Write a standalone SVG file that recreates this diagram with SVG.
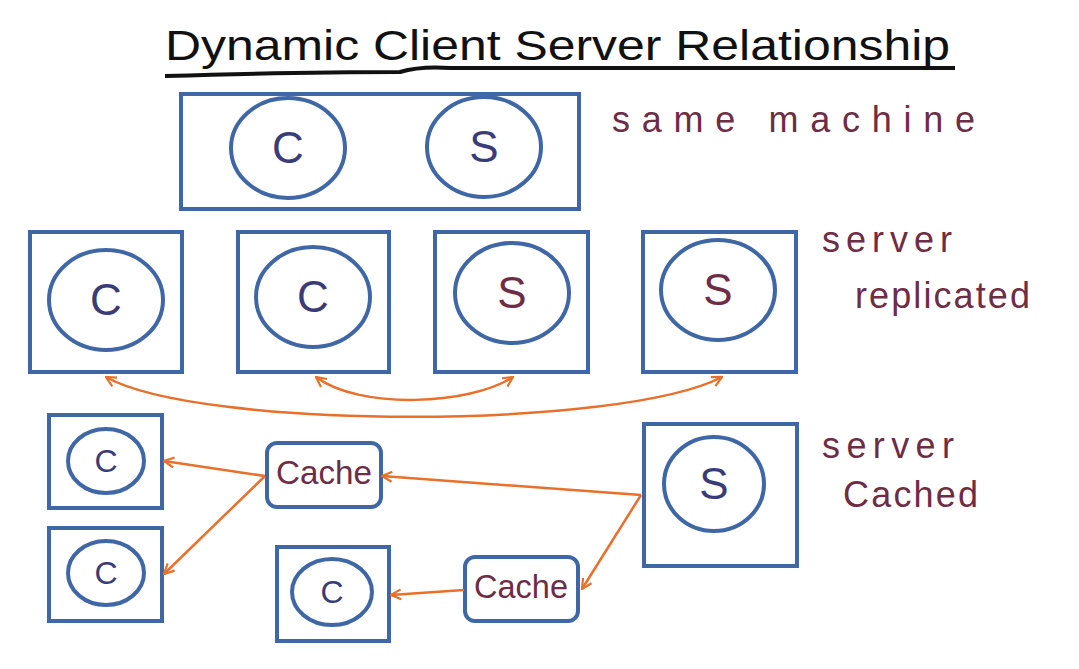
<svg xmlns="http://www.w3.org/2000/svg" width="1079" height="669" viewBox="0 0 1079 669">
<style>
.box{fill:none;stroke:#3F67A6;stroke-width:4}
.circ{fill:none;stroke:#3F67A6;stroke-width:4}
.conn{fill:none;stroke:#E8702A;stroke-width:2.5}
.lc{font-family:"Liberation Sans",Arial,sans-serif;fill:#3A3C78}
.ls{font-family:"Liberation Sans",Arial,sans-serif;fill:#6E2C45}
.lab{font-family:"Liberation Sans",Arial,sans-serif;fill:#6E2C45;font-size:36px}
.title{font-family:"Liberation Sans",Arial,sans-serif;fill:#111;font-size:42px}
</style>
<defs>
<marker id="ah" viewBox="0 0 12 12" refX="11" refY="6" markerWidth="12" markerHeight="12" markerUnits="userSpaceOnUse" orient="auto-start-reverse">
<path d="M1,1 L11,6 L1,11" fill="none" stroke="#E8702A" stroke-width="2.2"/>
</marker>
</defs>
<rect width="1079" height="669" fill="#fff"/>
<g id="title">
<text class="title" x="165" y="60" textLength="785" lengthAdjust="spacingAndGlyphs">Dynamic Client Server Relationship</text>
<path d="M165,76 Q300,72 400,72 Q420,66 450,68 L955,68" fill="none" stroke="#111" stroke-width="4"/>
</g>
<g id="labels">
<text class="lab" x="612" y="132" textLength="363" lengthAdjust="spacing">same machine</text>
<text class="lab" x="822" y="252" textLength="130" lengthAdjust="spacing">server</text>
<text class="lab" x="855" y="308" textLength="175" lengthAdjust="spacing">replicated</text>
<text class="lab" x="822" y="458" textLength="132" lengthAdjust="spacing">server</text>
<text class="lab" x="843" y="507" textLength="135" lengthAdjust="spacing">Cached</text>
</g>
<g id="machine">
<rect class="box" x="181" y="94" width="398" height="115"/>
<ellipse class="circ" cx="288" cy="148" rx="57" ry="50"/>
<text class="lc" x="288" y="163" font-size="44" text-anchor="middle">C</text>
<ellipse class="circ" cx="484" cy="147" rx="57" ry="50"/>
<text class="lc" x="484" y="162" font-size="44" text-anchor="middle">S</text>
</g>
<g id="r-c1">
<rect class="box" x="30" y="232" width="152" height="140"/>
<ellipse class="circ" cx="106" cy="300" rx="57" ry="50"/>
<text class="lc" x="106" y="315" font-size="44" text-anchor="middle">C</text>
</g>
<g id="r-c2">
<rect class="box" x="238" y="232" width="151" height="140"/>
<ellipse class="circ" cx="313" cy="297" rx="57" ry="50"/>
<text class="lc" x="313" y="312" font-size="44" text-anchor="middle">C</text>
</g>
<g id="r-s1">
<rect class="box" x="435" y="232" width="153" height="140"/>
<ellipse class="circ" cx="512" cy="293" rx="57" ry="50"/>
<text class="ls" x="512" y="308" font-size="44" text-anchor="middle">S</text>
</g>
<g id="r-s2">
<rect class="box" x="643" y="232" width="153" height="140"/>
<ellipse class="circ" cx="718" cy="290" rx="57" ry="50"/>
<text class="ls" x="718" y="305" font-size="44" text-anchor="middle">S</text>
</g>
<g id="k-c1">
<rect class="box" x="49" y="415" width="113" height="93"/>
<ellipse class="circ" cx="106" cy="461" rx="38" ry="32"/>
<text class="lc" x="106" y="472" font-size="32" text-anchor="middle">C</text>
</g>
<g id="k-c2">
<rect class="box" x="49" y="528" width="113" height="93"/>
<ellipse class="circ" cx="106" cy="573" rx="38" ry="32"/>
<text class="lc" x="106" y="584" font-size="32" text-anchor="middle">C</text>
</g>
<g id="k-c3">
<rect class="box" x="277" y="547" width="112" height="94"/>
<ellipse class="circ" cx="332" cy="592" rx="40" ry="33"/>
<text class="lc" x="332" y="603" font-size="32" text-anchor="middle">C</text>
</g>
<g id="cache1">
<rect class="box" x="267" y="443" width="114" height="64" rx="10"/>
<text class="ls" x="324" y="484" font-size="34" text-anchor="middle" textLength="96" lengthAdjust="spacingAndGlyphs">Cache</text>
</g>
<g id="cache2">
<rect class="box" x="465" y="557" width="113" height="64" rx="10"/>
<text class="ls" x="521" y="598" font-size="34" text-anchor="middle" textLength="94" lengthAdjust="spacingAndGlyphs">Cache</text>
</g>
<g id="k-server">
<rect class="box" x="644" y="424" width="153" height="142"/>
<ellipse class="circ" cx="714" cy="484" rx="50" ry="47"/>
<text class="lc" x="714" y="499" font-size="44" text-anchor="middle">S</text>
</g>
<g id="connectors">
<path class="conn" d="M106,377 C200,430 620,430 722,377" marker-start="url(#ah)" marker-end="url(#ah)"/>
<path class="conn" d="M316,377 C360,410 470,405 513,377" marker-start="url(#ah)" marker-end="url(#ah)"/>
<path class="conn" d="M641,495 L382,476" marker-end="url(#ah)"/>
<path class="conn" d="M641,495 L582,589" marker-end="url(#ah)"/>
<path class="conn" d="M265,476 L164,461" marker-end="url(#ah)"/>
<path class="conn" d="M265,476 L164,574" marker-end="url(#ah)"/>
<path class="conn" d="M464,590 L391,595" marker-end="url(#ah)"/>
</g>
</svg>
